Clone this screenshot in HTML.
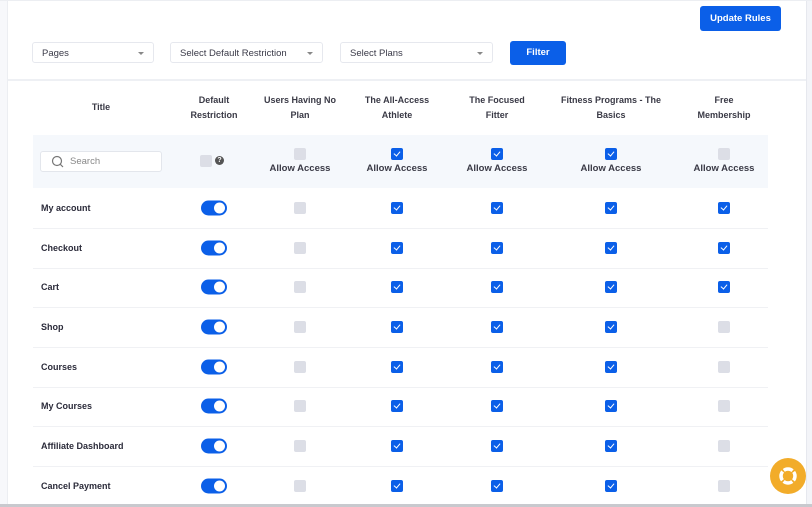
<!DOCTYPE html>
<html><head><style>
body{margin:0;width:812px;height:507px;background:#fff;font-family:"Liberation Sans",sans-serif;position:relative;overflow:hidden;color:#2b2b3a}
.a{position:absolute}
.sel{position:absolute;top:42px;height:21px;border:1px solid #e6e8ee;border-radius:3px;font-size:9.5px;color:#3a3a48;line-height:21px;padding-left:9px;box-sizing:border-box}
.sel:after{content:"";position:absolute;right:9px;top:9px;border:3px solid transparent;border-top:3.5px solid #888}
.btn{position:absolute;background:#0b5fe8;color:#fff;border-radius:3px;font-size:9.5px;font-weight:bold;text-align:center}
.h{position:absolute;top:93px;font-size:9px;font-weight:bold;text-align:center;line-height:14.5px;transform:translateX(-50%);white-space:nowrap;color:#3a3a46}
.cb{position:absolute;width:12px;height:12px;border-radius:2px;background:#dcdee6;transform:translate(-50%,-50%)}
.cb.on{background:#0b5fe8}
.cb.on:after{content:"";position:absolute;left:4px;top:2px;width:3px;height:5px;border:solid #fff;border-width:0 1.5px 1.5px 0;transform:rotate(40deg)}
.tg{position:absolute;width:26px;height:15px;border-radius:8px;background:#0b5fe8;transform:translate(-50%,-50%)}
.tg:after{content:"";position:absolute;right:2px;top:2px;width:11px;height:11px;border-radius:50%;background:#fff}
.t{position:absolute;left:41px;font-size:9px;font-weight:bold;transform:translateY(-50%);color:#2b2b3a}
.aa{position:absolute;top:163px;font-size:9.5px;font-weight:bold;transform:translateX(-50%);white-space:nowrap;color:#3a3a46}
.ln{position:absolute;left:33px;width:735px;height:1px;background:#f0f1f4}
</style></head><body>
<div class="a" style="left:0;top:0;width:7px;height:507px;background:#f7f8fb;border-right:1px solid #eceef2"></div>
<div class="a" style="left:806px;top:0;width:6px;height:507px;background:#f3f4f8;border-left:1px solid #e6e8ee"></div>
<div class="a" style="left:0;top:0;width:812px;height:1px;background:#eceef2"></div>
<div class="a" style="left:8px;top:79px;width:798px;height:2px;background:#eef0f4"></div>
<div class="a" style="left:0;top:504px;width:812px;height:3px;background:#c8c9ce"></div>
<div class="btn" style="left:700px;top:6px;width:81px;height:25px;line-height:25px">Update Rules</div>
<div class="sel" style="left:32px;width:122px">Pages</div>
<div class="sel" style="left:170px;width:153px">Select Default Restriction</div>
<div class="sel" style="left:340px;width:153px">Select Plans</div>
<div class="btn" style="left:510px;top:41px;width:56px;height:24px;line-height:24px">Filter</div>
<div class="h" style="left:101px;top:100px">Title</div>
<div class="h" style="left:214px">Default<br>Restriction</div>
<div class="h" style="left:300px">Users Having No<br>Plan</div>
<div class="h" style="left:397px">The All-Access<br>Athlete</div>
<div class="h" style="left:497px">The Focused<br>Fitter</div>
<div class="h" style="left:611px">Fitness Programs - The<br>Basics</div>
<div class="h" style="left:724px">Free<br>Membership</div>
<div class="a" style="left:33px;top:135px;width:735px;height:53px;background:#f5f8fc"></div>
<div class="a" style="left:40px;top:151px;width:122px;height:21px;border:1px solid #e3e6ec;border-radius:3px;background:#fff;box-sizing:border-box"></div>
<svg class="a" style="left:51px;top:155px" width="13" height="13"><circle cx="6" cy="6" r="4.5" fill="none" stroke="#777" stroke-width="1.2"/><line x1="9.3" y1="9.3" x2="12" y2="12" stroke="#777" stroke-width="1.2"/></svg>
<div class="a" style="left:70px;top:156px;font-size:9.5px;color:#888">Search</div>
<div class="cb" style="left:206px;top:161px;width:12px;height:12px"></div>
<div class="a" style="left:215px;top:156px;width:9px;height:9px;border-radius:50%;background:#555;color:#fff;font-size:7px;font-weight:bold;text-align:center;line-height:9px">?</div>
<div class="cb" style="left:300px;top:154px"></div>
<div class="cb on" style="left:397px;top:154px"></div>
<div class="cb on" style="left:497px;top:154px"></div>
<div class="cb on" style="left:611px;top:154px"></div>
<div class="cb" style="left:724px;top:154px"></div>
<div class="aa" style="left:300px">Allow Access</div>
<div class="aa" style="left:397px">Allow Access</div>
<div class="aa" style="left:497px">Allow Access</div>
<div class="aa" style="left:611px">Allow Access</div>
<div class="aa" style="left:724px">Allow Access</div>

<div class="ln" style="top:228px"></div><div class="ln" style="top:268px"></div><div class="ln" style="top:307px"></div><div class="ln" style="top:347px"></div><div class="ln" style="top:387px"></div><div class="ln" style="top:426px"></div><div class="ln" style="top:466px"></div>

<div class="t" style="top:208px">My account</div><div class="tg" style="left:214px;top:208px"></div><div class="cb" style="left:300px;top:208px"></div><div class="cb on" style="left:397px;top:208px"></div><div class="cb on" style="left:497px;top:208px"></div><div class="cb on" style="left:611px;top:208px"></div><div class="cb on" style="left:724px;top:208px"></div>
<div class="t" style="top:248px">Checkout</div><div class="tg" style="left:214px;top:248px"></div><div class="cb" style="left:300px;top:248px"></div><div class="cb on" style="left:397px;top:248px"></div><div class="cb on" style="left:497px;top:248px"></div><div class="cb on" style="left:611px;top:248px"></div><div class="cb on" style="left:724px;top:248px"></div>
<div class="t" style="top:287px">Cart</div><div class="tg" style="left:214px;top:287px"></div><div class="cb" style="left:300px;top:287px"></div><div class="cb on" style="left:397px;top:287px"></div><div class="cb on" style="left:497px;top:287px"></div><div class="cb on" style="left:611px;top:287px"></div><div class="cb on" style="left:724px;top:287px"></div>
<div class="t" style="top:327px">Shop</div><div class="tg" style="left:214px;top:327px"></div><div class="cb" style="left:300px;top:327px"></div><div class="cb on" style="left:397px;top:327px"></div><div class="cb on" style="left:497px;top:327px"></div><div class="cb on" style="left:611px;top:327px"></div><div class="cb" style="left:724px;top:327px"></div>
<div class="t" style="top:367px">Courses</div><div class="tg" style="left:214px;top:367px"></div><div class="cb" style="left:300px;top:367px"></div><div class="cb on" style="left:397px;top:367px"></div><div class="cb on" style="left:497px;top:367px"></div><div class="cb on" style="left:611px;top:367px"></div><div class="cb" style="left:724px;top:367px"></div>
<div class="t" style="top:406px">My Courses</div><div class="tg" style="left:214px;top:406px"></div><div class="cb" style="left:300px;top:406px"></div><div class="cb on" style="left:397px;top:406px"></div><div class="cb on" style="left:497px;top:406px"></div><div class="cb on" style="left:611px;top:406px"></div><div class="cb" style="left:724px;top:406px"></div>
<div class="t" style="top:446px">Affiliate Dashboard</div><div class="tg" style="left:214px;top:446px"></div><div class="cb" style="left:300px;top:446px"></div><div class="cb on" style="left:397px;top:446px"></div><div class="cb on" style="left:497px;top:446px"></div><div class="cb on" style="left:611px;top:446px"></div><div class="cb" style="left:724px;top:446px"></div>
<div class="t" style="top:486px">Cancel Payment</div><div class="tg" style="left:214px;top:486px"></div><div class="cb" style="left:300px;top:486px"></div><div class="cb on" style="left:397px;top:486px"></div><div class="cb on" style="left:497px;top:486px"></div><div class="cb on" style="left:611px;top:486px"></div><div class="cb" style="left:724px;top:486px"></div>

<div class="a" style="left:770px;top:458px;width:36px;height:36px;border-radius:50%;background:#f2ac2a"></div>
<svg class="a" style="left:778px;top:466px" width="20" height="20"><circle cx="10" cy="10" r="7" fill="none" stroke="#fff" stroke-width="3.5"/><circle cx="10" cy="10" r="7" fill="none" stroke="#f2ac2a" stroke-width="4" stroke-dasharray="1.6 9.4" stroke-dashoffset="-4.7"/></svg>
</body></html>
